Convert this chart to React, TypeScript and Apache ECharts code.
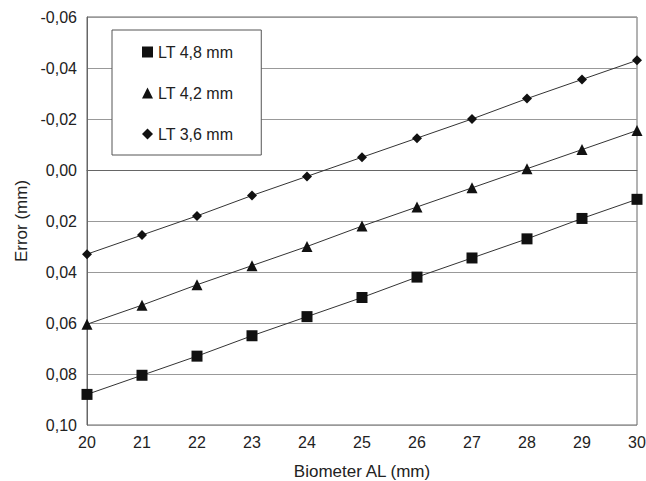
import React, { useEffect, useRef } from "react";
import * as echarts from "echarts";

const xValues = [20, 21, 22, 23, 24, 25, 26, 27, 28, 29, 30];
const lt48 = [0.088, 0.0805, 0.073, 0.065, 0.0575, 0.05, 0.042, 0.0345, 0.027, 0.019, 0.0115];
const lt42 = [0.0605, 0.053, 0.045, 0.0375, 0.03, 0.022, 0.0145, 0.007, -0.0005, -0.008, -0.0155];
const lt36 = [0.033, 0.0255, 0.018, 0.01, 0.0025, -0.005, -0.0125, -0.02, -0.028, -0.0355, -0.043];
const seriesNames = ["LT 4,8 mm", "LT 4,2 mm", "LT 3,6 mm"];
const symbols = ["rect", "triangle", "diamond"];
const symbolSizes = [11, 11, 10];

const FONT = "Liberation Sans, Arial, sans-serif";

export default function App() {
  const ref = useRef<HTMLDivElement>(null);
  useEffect(() => {
    if (!ref.current) return;
    const chart = echarts.init(ref.current, undefined, { renderer: "svg" });
    const datas = [lt48, lt42, lt36];
    chart.setOption({
      animation: false,
      backgroundColor: "#fff",
      grid: {
        left: 87,
        top: 17,
        right: 9,
        bottom: 56,
        show: true,
        borderColor: "#666",
        borderWidth: 1,
        outerBoundsMode: "none",
        containLabel: false,
      },
      legend: {
        orient: "vertical",
        left: 112,
        top: 30,
        padding: [14, 28, 13, 30],
        itemGap: 25,
        itemWidth: 11,
        itemHeight: 11,
        backgroundColor: "#fff",
        borderColor: "#555",
        borderWidth: 1,
        textStyle: { fontFamily: FONT, fontSize: 16, color: "#222" },
        data: seriesNames.map((n, i) => ({ name: n, icon: symbols[i], itemStyle: { color: "#111" } })),
      },
      xAxis: {
        type: "value",
        min: 20,
        max: 30,
        interval: 1,
        name: "Biometer AL (mm)",
        nameLocation: "middle",
        nameGap: 38,
        nameTextStyle: { fontFamily: FONT, fontSize: 17, color: "#222" },
        axisLine: { show: true, lineStyle: { color: "#666" } },
        axisTick: { show: false },
        splitLine: { show: false },
        axisLabel: { fontFamily: FONT, fontSize: 16, color: "#222", margin: 9 },
      },
      yAxis: {
        type: "value",
        inverse: true,
        min: -0.06,
        max: 0.1,
        interval: 0.02,
        name: "Error (mm)",
        nameLocation: "middle",
        nameGap: 53,
        nameTextStyle: { fontFamily: FONT, fontSize: 17, color: "#222" },
        axisLine: { show: true, lineStyle: { color: "#666" } },
        axisTick: { show: false },
        splitLine: { show: true, lineStyle: { color: "#999", width: 1 } },
        axisLabel: {
          fontFamily: FONT,
          fontSize: 16,
          color: "#222",
          margin: 10,
          formatter: (v: number) => {
            const r = Math.round(v * 100) / 100;
            return (r === 0 ? "0.00" : r.toFixed(2)).replace(".", ",");
          },
        },
      },
      series: datas.map((d, i) => ({
        name: seriesNames[i],
        type: "line",
        data: d.map((y, j) => [xValues[j], y]),
        symbol: symbols[i],
        symbolSize: symbolSizes[i],
        showAllSymbol: true,
        lineStyle: { color: "#333", width: 1 },
        itemStyle: { color: "#111" },
        z: 3,
      })),
    });
    return () => chart.dispose();
  }, []);
  return <div ref={ref} style={{ width: 646, height: 481, position: "absolute", left: 0, top: 0 }} />;
}
